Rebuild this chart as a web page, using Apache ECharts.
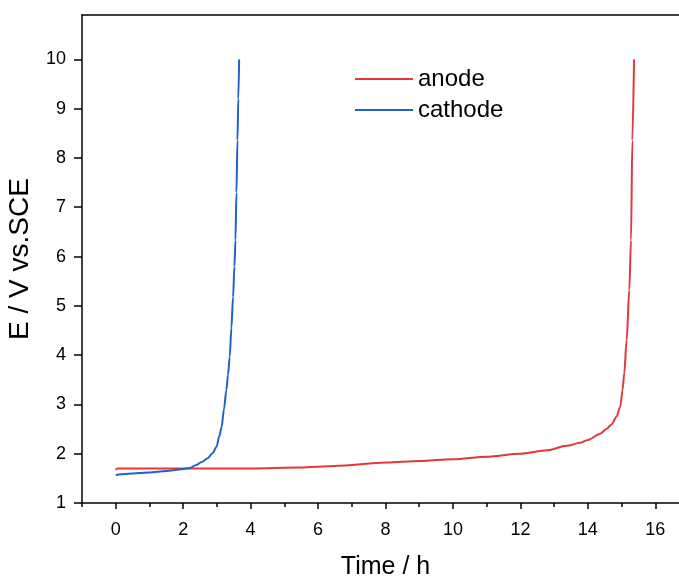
<!DOCTYPE html>
<html>
<head>
<meta charset="utf-8">
<script src="https://cdn.jsdelivr.net/npm/echarts@6/dist/echarts.min.js"></script>
<style>html,body{margin:0;padding:0;background:#fff;}#c{width:679px;height:576px;}</style>
</head>
<body>
<div id="c"></div>
<script>
// Data
var seriesNames = ['anode', 'cathode'];
var anodeData = [[0,1.67],[0.05,1.70],[0.5,1.70],[2,1.70],[4,1.70],[5.46,1.72],[6.5,1.75],[8.03,1.82],[9,1.85],[10,1.89],[11,1.94],[12,2.00],[12.8,2.07],[13.37,2.16],[13.77,2.22],[14.0,2.28],[14.36,2.40],[14.55,2.5],[14.71,2.6],[14.85,2.75],[14.96,2.95],[15.03,3.3],[15.08,3.63],[15.15,4.30],[15.23,5.32],[15.28,6.33],[15.32,8.36],[15.37,10]];
var cathodeData = [[0,1.57],[0.3,1.59],[0.7,1.61],[1.0,1.62],[1.5,1.65],[1.9,1.68],[2.2,1.71],[2.39,1.77],[2.55,1.83],[2.73,1.91],[2.87,2.01],[2.99,2.14],[3.07,2.35],[3.14,2.54],[3.21,2.9],[3.28,3.29],[3.33,3.6],[3.38,3.96],[3.43,4.55],[3.48,5.18],[3.52,5.8],[3.55,6.33],[3.58,7.3],[3.61,8.36],[3.635,9.2],[3.66,10]];
var xMajorTicks = [0,2,4,6,8,10,12,14,16];
var xMinorTicks = [-1,1,3,5,7,9,11,13,15,17];
var yTicks = [1,2,3,4,5,6,7,8,9,10];
var xTitle = 'Time / h';
var yTitle = 'E / V vs.SCE';

var font = 'Liberation Sans, Arial, sans-serif';
var axisLine = {show: true, onZero: false, lineStyle: {color: '#000', width: 1.5}};
var chart = echarts.init(document.getElementById('c'));
chart.setOption({
  backgroundColor: '#fff',
  animation: false,
  grid: {left: 82, right: -10, top: 15, bottom: 73, containLabel: false, outerBoundsMode: 'none'},
  legend: {
    orient: 'vertical', left: 355, top: 67, padding: 0, itemWidth: 58, itemHeight: 2, itemGap: 7,
    icon: 'rect',
    textStyle: {fontFamily: font, fontSize: 24, color: '#000'},
    data: seriesNames
  },
  xAxis: [{
    type: 'value', min: -1, max: 17, position: 'bottom',
    name: xTitle, nameLocation: 'middle', nameGap: 52,
    nameTextStyle: {fontFamily: font, fontSize: 25, color: '#000'},
    axisLine: axisLine,
    axisTick: {show: true, inside: false, length: 6, customValues: xMajorTicks, lineStyle: {color: '#000', width: 1.5}},
    axisLabel: {show: true, margin: 18, customValues: xMajorTicks, fontFamily: font, fontSize: 18, color: '#000'},
    splitLine: {show: false}
  }, {
    type: 'value', min: -1, max: 17, position: 'bottom',
    axisLine: {show: false, onZero: false},
    axisTick: {show: true, inside: false, length: 4, customValues: xMinorTicks, lineStyle: {color: '#000', width: 1.5}},
    axisLabel: {show: false}, splitLine: {show: false}
  }, {
    type: 'value', min: -1, max: 17, position: 'top',
    axisLine: axisLine, axisTick: {show: false}, axisLabel: {show: false}, splitLine: {show: false}
  }],
  yAxis: [{
    type: 'value', min: 1, max: 10.9, position: 'left',
    name: yTitle, nameLocation: 'middle', nameGap: 48,
    nameTextStyle: {fontFamily: font, fontSize: 28, color: '#000'},
    axisLine: axisLine,
    axisTick: {show: true, inside: false, length: 8, customValues: yTicks, lineStyle: {color: '#000', width: 1.5}},
    axisLabel: {show: true, margin: 16, customValues: yTicks, fontFamily: font, fontSize: 18, color: '#000'},
    splitLine: {show: false}
  }, {
    type: 'value', min: 1, max: 10.9, position: 'right',
    axisLine: axisLine, axisTick: {show: false}, axisLabel: {show: false}, splitLine: {show: false}
  }],
  series: [{
    name: seriesNames[0], type: 'line', xAxisIndex: 0, yAxisIndex: 0,
    data: anodeData, showSymbol: false, symbol: 'none', smooth: 0.3, smoothMonotone: 'x',
    lineStyle: {color: '#e6363b', width: 2}, itemStyle: {color: '#e6363b'}
  }, {
    name: seriesNames[1], type: 'line', xAxisIndex: 0, yAxisIndex: 0,
    data: cathodeData, showSymbol: false, symbol: 'none', smooth: 0.3, smoothMonotone: 'x',
    lineStyle: {color: '#1f63c6', width: 2}, itemStyle: {color: '#1f63c6'}
  }]
});
</script>
</body>
</html>
